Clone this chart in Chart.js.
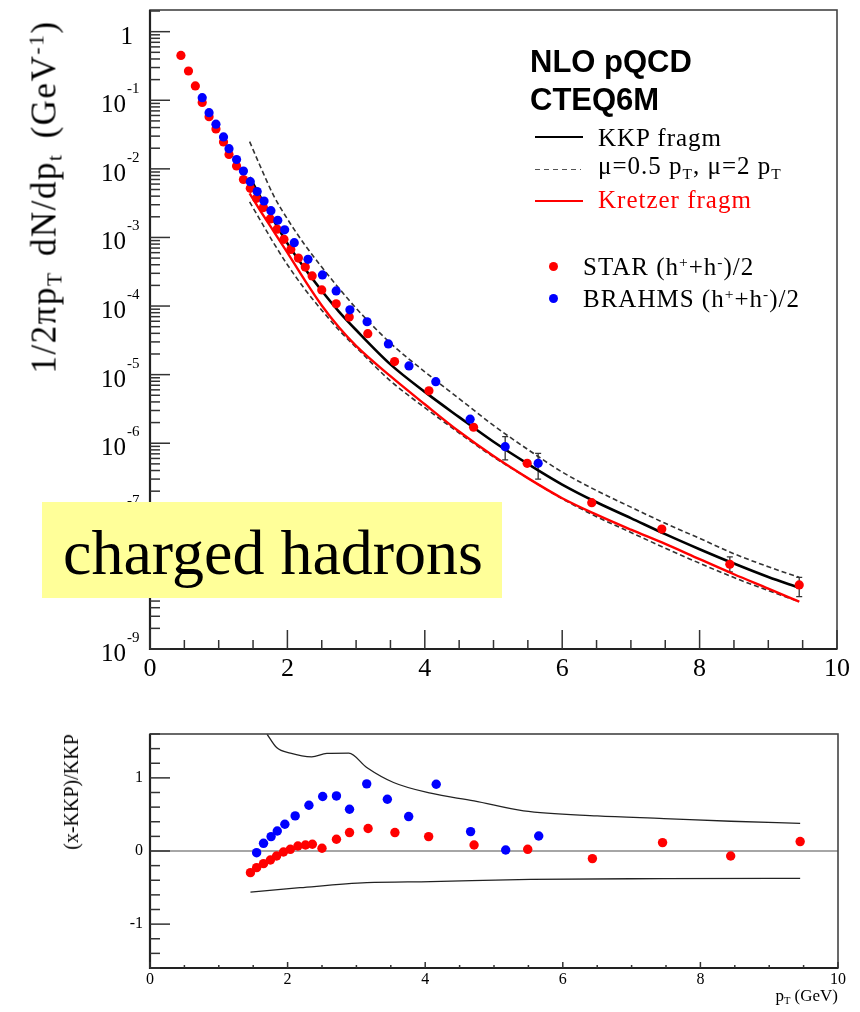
<!DOCTYPE html>
<html>
<head>
<meta charset="utf-8">
<script src="https://cdn.jsdelivr.net/npm/chart.js@4.4.1/dist/chart.umd.min.js"></script>
<style>
  html, body { margin: 0; padding: 0; background: #fff; }
  #wrap { position: relative; width: 860px; height: 1012px; overflow: hidden; background: #fff; }
  canvas { position: absolute; left: 0; }
  .t { position: absolute; white-space: nowrap; line-height: 1; font-family: "Liberation Serif", "Times New Roman", serif; color: #000; }
  .rot { transform: translate(-50%, -50%) rotate(-90deg); }
  .sb { font-size: 0.62em; position: relative; top: 0.28em; }
  .sp { font-size: 0.62em; position: relative; top: -0.55em; }
  .lg { letter-spacing: 1px; font-size: 25px; }
  .sw { position: absolute; }
</style>
</head>
<body>
<div id="wrap">
  <canvas id="topChart" width="860" height="690" style="top:0;"></canvas>
  <canvas id="botChart" width="860" height="312" style="top:700px;"></canvas>

  <div class="t rot" style="left:44px; top:197px; font-size:35px; letter-spacing:1.5px; word-spacing:5px;">1/2πp<span class="sb">T</span> dN/dp<span class="sb">t</span> (GeV<span class="sp">-1</span>)</div>
  <div class="t rot" style="left:71px; top:792px; font-size:20px;">(x-KKP)/KKP</div>
  <div class="t" style="right:22px; top:987px; font-size:17px;">p<span class="sb">T</span> (GeV)</div>

  <div class="t" style="left:530px; top:45.5px; font-family:'Liberation Sans', Arial, sans-serif; font-weight:bold; font-size:31px;">NLO pQCD</div>
  <div class="t" style="left:530px; top:83.8px; font-family:'Liberation Sans', Arial, sans-serif; font-weight:bold; font-size:31px;">CTEQ6M</div>

  <div class="sw" style="left:535px; top:136px; width:48px; height:2px; background:#000;"></div>
  <div class="t lg" style="left:598px; top:124.8px;">KKP fragm</div>
  <div class="sw" style="left:535px; top:169px; width:46px; height:1px; background:repeating-linear-gradient(to right, #555 0 5px, transparent 5px 9px);"></div>
  <div class="t lg" style="left:598px; top:153.4px;">μ=0.5 p<span class="sb">T</span>, μ=2 p<span class="sb">T</span></div>
  <div class="sw" style="left:535px; top:200px; width:48px; height:2px; background:#ff0000;"></div>
  <div class="t lg" style="left:598px; top:187.4px; color:#ff0000;">Kretzer fragm</div>

  <div class="sw" style="left:548.5px; top:261.5px; width:9px; height:9px; border-radius:50%; background:#ff0000;"></div>
  <div class="t lg" style="left:583px; top:254.1px;">STAR (h<span class="sp">+</span>+h<span class="sp">-</span>)/2</div>
  <div class="sw" style="left:548.5px; top:293.5px; width:9px; height:9px; border-radius:50%; background:#0000ff;"></div>
  <div class="t lg" style="left:583px; top:286.4px;">BRAHMS (h<span class="sp">+</span>+h<span class="sp">-</span>)/2</div>

  <div class="sw" style="left:42px; top:502px; width:460px; height:96px; background:#ffff99;"></div>
  <div class="t" style="left:63px; top:521.4px; font-size:64px;">charged hadrons</div>
</div>

<script>
// ---------------- data ----------------
// STAR (h+ + h-)/2 invariant yield
const starPt    = [0.45,0.56,0.66,0.76,0.86,0.96,1.07,1.15,1.26,1.36,1.46,1.55,1.65,1.75,1.85,1.95,2.05,2.16,2.26,2.36,2.50,2.71,2.90,3.17,3.56,4.06,4.71,5.49,6.43,7.45,8.44,9.45];
const starYield = [0.45,0.267,0.162,0.093,0.0577,0.0382,0.0247,0.0162,0.0110,0.0070,0.00521,0.00372,0.00273,0.00186,0.00132,0.00094,0.00067,0.00050,0.00037,0.000275,0.000172,0.000108,6.9e-5,3.96e-5,1.55e-5,5.8e-6,1.71e-6,5.1e-7,1.36e-7,5.6e-8,1.72e-8,8.6e-9];

// BRAHMS (h+ + h-)/2 invariant yield
const brahmsPt    = [0.76,0.86,0.96,1.07,1.15,1.26,1.36,1.46,1.56,1.66,1.76,1.86,1.96,2.10,2.30,2.51,2.71,2.91,3.16,3.47,3.77,4.16,4.66,5.17,5.65];
const brahmsYield = [0.109,0.066,0.0448,0.0292,0.0197,0.0137,0.0093,0.0065,0.00466,0.0034,0.00246,0.00178,0.00129,0.00084,0.00048,0.000284,0.000166,8.8e-5,5.9e-5,2.8e-5,1.34e-5,7.9e-6,2.24e-6,8.9e-7,5.1e-7];

// visible error bars (pT, low, high)
const errPt   = [5.17, 5.65, 8.44, 9.45];
const errLow  = [5.7e-7, 3.0e-7, 1.33e-8, 5.8e-9];
const errHigh = [1.25e-6, 7.1e-7, 2.2e-8, 1.11e-8];

// NLO pQCD curves
const theoryPt  = [1.45,1.6,1.8,2.0,2.25,2.5,2.75,3.0,3.5,4.0,4.5,5.0,5.5,6.0,6.5,7.0,7.5,8.0,8.5,9.0,9.45];
const kkp       = [7.6e-3,4.0e-3,1.78e-3,8.2e-4,3.55e-4,1.67e-4,8.3e-5,4.47e-5,1.41e-5,5.6e-6,2.4e-6,1.05e-6,5.0e-7,2.5e-7,1.38e-7,8.1e-8,4.73e-8,2.85e-8,1.76e-8,1.12e-8,7.8e-9];
const scaleHigh = [2.5e-2,1.12e-2,4.07e-3,1.86e-3,7.9e-4,3.7e-4,1.82e-4,9.3e-5,2.88e-5,1.10e-5,4.47e-6,1.82e-6,8.1e-7,3.8e-7,2.04e-7,1.17e-7,6.8e-8,4.1e-8,2.45e-8,1.58e-8,1.11e-8];
const scaleLow  = [3.3e-3,1.82e-3,8.3e-4,4.0e-4,1.78e-4,8.7e-5,4.47e-5,2.5e-5,8.1e-6,3.3e-6,1.41e-6,6.3e-7,3.1e-7,1.55e-7,8.5e-8,5.0e-8,2.95e-8,1.78e-8,1.10e-8,7.1e-9,4.9e-9];
const kretzer   = [4.4e-3,2.5e-3,1.23e-3,6.0e-4,2.4e-4,1.02e-4,4.9e-5,2.63e-5,9.5e-6,3.7e-6,1.48e-6,6.5e-7,3.1e-7,1.58e-7,9.1e-8,5.5e-8,3.4e-8,2.04e-8,1.23e-8,7.6e-9,4.9e-9];

// ratio panel (x-KKP)/KKP
const starRatioPt   = [1.46,1.55,1.65,1.75,1.84,1.94,2.04,2.15,2.26,2.36,2.50,2.71,2.90,3.17,3.56,4.05,4.71,5.49,6.43,7.45,8.44,9.45];
const starRatio     = [-0.296,-0.228,-0.173,-0.123,-0.068,-0.014,0.023,0.068,0.082,0.092,0.037,0.160,0.252,0.307,0.252,0.197,0.082,0.023,-0.104,0.115,-0.068,0.129];
const brahmsRatioPt = [1.55,1.65,1.76,1.85,1.96,2.11,2.31,2.51,2.71,2.90,3.15,3.45,3.76,4.16,4.66,5.17,5.65];
const brahmsRatio   = [-0.023,0.105,0.197,0.274,0.366,0.48,0.626,0.745,0.753,0.571,0.918,0.708,0.471,0.913,0.265,0.014,0.205];
const bandUpperPt   = [1.70,1.84,2.04,2.35,2.57,2.89,3.15,3.54,4.08,4.71,5.43,6.50,7.47,8.44,9.45];
const bandUpper     = [1.60,1.416,1.338,1.288,1.334,1.338,1.142,0.937,0.790,0.685,0.548,0.479,0.444,0.407,0.379];
const bandLowerPt   = [1.46,2.18,3.15,4.08,5.53,7.47,9.45];
const bandLower     = [-0.561,-0.502,-0.433,-0.418,-0.388,-0.378,-0.374];
const ratioRef      = 0;

// axes / ticks
const xRange       = [0, 10];
const xTickStep    = 2;
const xMinorStep   = 0.5;
const yTopRange    = [1e-9, 2.07];
const decadeExp    = [0,-1,-2,-3,-4,-5,-6,-7,-8,-9];
const yBotRange    = [-1.6, 1.6];
const yBotTicks    = [-1, 0, 1];
const yBotMinorStep = 0.2;

// ---------------- helpers ----------------
const SERIF = '"Liberation Serif", "Times New Roman", serif';
const pts = (xs, ys) => xs.map((x, i) => ({ x: x, y: ys[i] }));
const curve = (label, xs, ys, color, width, dash) => ({
  label, data: pts(xs, ys), showLine: true, borderColor: color, borderWidth: width,
  borderDash: dash || [], pointRadius: 0, pointHoverRadius: 0,
  cubicInterpolationMode: 'monotone', fill: false
});
const dots = (label, xs, ys, color, r) => ({
  label, data: pts(xs, ys), showLine: false, pointRadius: r, pointHoverRadius: r,
  backgroundColor: color, borderColor: color, pointBackgroundColor: color, pointBorderWidth: 0
});

const xMajorVals = [];
for (let v = xRange[0]; v <= xRange[1] + 1e-9; v += xTickStep) xMajorVals.push(v);
const xMinorVals = [];
for (let k = 0; k * xMinorStep <= xRange[1] + 1e-9; k++) { const v = k * xMinorStep; if (Math.abs(v / xTickStep - Math.round(v / xTickStep)) > 1e-6) xMinorVals.push(v); }

const yTopMajor = decadeExp.map(e => Math.pow(10, e));
const yTopMinor = [];
decadeExp.forEach(e => { for (let k = 2; k <= 9; k++) { const v = k * Math.pow(10, e); if (v <= yTopRange[1]) yTopMinor.push(v); } });

const yBotMinor = [];
for (let k = Math.ceil(yBotRange[0] / yBotMinorStep); k * yBotMinorStep <= yBotRange[1] + 1e-9; k++) {
  const v = +(k * yBotMinorStep).toFixed(3);
  if (!yBotTicks.some(t => Math.abs(t - v) < 1e-6)) yBotMinor.push(v);
}

const errorBars = {
  id: 'errorBars',
  beforeDatasetsDraw(chart) {
    const { ctx } = chart; const xs = chart.scales.x, ys = chart.scales.y;
    ctx.save(); ctx.strokeStyle = '#333'; ctx.lineWidth = 1.3;
    errPt.forEach((p, i) => {
      const x = xs.getPixelForValue(p), y1 = ys.getPixelForValue(errLow[i]), y2 = ys.getPixelForValue(errHigh[i]);
      ctx.beginPath(); ctx.moveTo(x, y1); ctx.lineTo(x, y2);
      ctx.moveTo(x - 3, y1); ctx.lineTo(x + 3, y1); ctx.moveTo(x - 3, y2); ctx.lineTo(x + 3, y2); ctx.stroke();
    });
    ctx.restore();
  }
};

function frame(cfg) {
  return {
    id: 'rootFrame',
    afterDatasetsDraw(chart) {
      const { ctx, chartArea: a } = chart;
      const xs = chart.scales.x, ys = chart.scales.y;
      ctx.save();
      const line = (x1, y1, x2, y2) => { ctx.beginPath(); ctx.moveTo(x1, y1); ctx.lineTo(x2, y2); ctx.stroke(); };
      ctx.strokeStyle = '#444'; ctx.lineWidth = 1.6;
      ctx.strokeRect(a.left, a.top, a.right - a.left, a.bottom - a.top);
      ctx.strokeStyle = '#222'; ctx.lineWidth = 2.2;
      ctx.beginPath(); ctx.moveTo(a.left, a.top); ctx.lineTo(a.left, a.bottom); ctx.lineTo(a.right, a.bottom); ctx.stroke();
      ctx.strokeStyle = '#333'; ctx.lineWidth = 1.5;
      cfg.yMajor.forEach(v => { const y = ys.getPixelForValue(v); line(a.left, y, a.left + cfg.yMajorLen, y); });
      cfg.yMinor.forEach(v => { const y = ys.getPixelForValue(v); line(a.left, y, a.left + cfg.yMinorLen, y); });
      cfg.xMajor.forEach(v => { const x = xs.getPixelForValue(v); line(x, a.bottom, x, a.bottom - cfg.xMajorLen); });
      cfg.xMinor.forEach(v => { const x = xs.getPixelForValue(v); line(x, a.bottom, x, a.bottom - cfg.xMinorLen); });
      if (cfg.logLabels) {
        ctx.fillStyle = '#000'; ctx.textBaseline = 'alphabetic';
        decadeExp.forEach(e => {
          const y = ys.getPixelForValue(Math.pow(10, e));
          if (e === 0) {
            ctx.font = '25px ' + SERIF; ctx.textAlign = 'right';
            ctx.fillText('1', a.left - 17, y + 12);
          } else {
            ctx.font = '25px ' + SERIF; ctx.textAlign = 'right';
            ctx.fillText('10', a.left - 24, y + 12);
            ctx.font = '15px ' + SERIF; ctx.textAlign = 'left';
            ctx.fillText(String(e), a.left - 23, y - 7);
          }
        });
      }
      ctx.restore();
    }
  };
}

// ---------------- top panel ----------------
new Chart(document.getElementById('topChart'), {
  type: 'scatter',
  data: {
    datasets: [
      dots('BRAHMS (h+ + h-)/2', brahmsPt, brahmsYield, '#0000ff', 4.6),
      dots('STAR (h+ + h-)/2', starPt, starYield, '#ff0000', 4.6),
      curve('Kretzer fragm', theoryPt, kretzer, '#ff0000', 2.4),
      curve('KKP fragm', theoryPt, kkp, '#000000', 2.6),
      curve('mu = 0.5 pT', theoryPt, scaleHigh, '#333333', 1.6, [5, 3]),
      curve('mu = 2 pT', theoryPt, scaleLow, '#333333', 1.6, [5, 3])
    ]
  },
  options: {
    responsive: false, animation: false, events: [],
    layout: { padding: { left: 0, top: 10, right: 23, bottom: 0 } },
    plugins: { legend: { display: false }, tooltip: { enabled: false } },
    scales: {
      x: {
        type: 'linear', position: 'bottom', min: xRange[0], max: xRange[1],
        ticks: { stepSize: xTickStep, font: { family: SERIF, size: 26 }, color: '#000', padding: 5, maxRotation: 0, autoSkip: false },
        grid: { display: false, drawTicks: false }, border: { display: false },
        afterFit: s => { s.height = 41; s.paddingLeft = 0; s.paddingRight = 0; }
      },
      y: {
        type: 'logarithmic', position: 'left', min: yTopRange[0], max: yTopRange[1],
        ticks: { display: false }, grid: { display: false, drawTicks: false }, border: { display: false },
        afterFit: s => { s.width = 150; s.paddingTop = 0; s.paddingBottom = 0; }
      }
    }
  },
  plugins: [errorBars, frame({ yMajor: yTopMajor, yMinor: yTopMinor, yMajorLen: 20, yMinorLen: 10,
                    xMajor: xMajorVals, xMinor: xMinorVals, xMajorLen: 19, xMinorLen: 9, logLabels: true })]
});

// ---------------- ratio panel ----------------
new Chart(document.getElementById('botChart'), {
  type: 'scatter',
  data: {
    datasets: [
      dots('BRAHMS ratio', brahmsRatioPt, brahmsRatio, '#0000ff', 4.7),
      dots('STAR ratio', starRatioPt, starRatio, '#ff0000', 4.7),
      curve('scale band high', bandUpperPt, bandUpper, '#222222', 1.3),
      curve('scale band low', bandLowerPt, bandLower, '#222222', 1.3),
      { label: 'reference', data: pts(xRange, [ratioRef, ratioRef]), showLine: true, borderColor: '#888888',
        borderWidth: 1.6, pointRadius: 0, pointHoverRadius: 0, fill: false }
    ]
  },
  options: {
    responsive: false, animation: false, events: [],
    layout: { padding: { left: 0, top: 34, right: 22, bottom: 0 } },
    plugins: { legend: { display: false }, tooltip: { enabled: false } },
    scales: {
      x: {
        type: 'linear', position: 'bottom', min: xRange[0], max: xRange[1],
        ticks: { stepSize: xTickStep, font: { family: SERIF, size: 16 }, color: '#000', padding: 2, maxRotation: 0, autoSkip: false },
        grid: { display: false, drawTicks: false }, border: { display: false },
        afterFit: s => { s.height = 44; s.paddingLeft = 0; s.paddingRight = 0; }
      },
      y: {
        type: 'linear', position: 'left', min: yBotRange[0], max: yBotRange[1],
        afterBuildTicks: s => { s.ticks = yBotTicks.map(v => ({ value: v })); },
        ticks: { font: { family: SERIF, size: 16 }, color: '#000', padding: 7, autoSkip: false },
        grid: { display: false, drawTicks: false }, border: { display: false },
        afterFit: s => { s.width = 150; s.paddingTop = 0; s.paddingBottom = 0; }
      }
    }
  },
  plugins: [frame({ yMajor: yBotTicks, yMinor: yBotMinor, yMajorLen: 20, yMinorLen: 10,
                    xMajor: xMajorVals, xMinor: xMinorVals, xMajorLen: 6, xMinorLen: 3, logLabels: false })]
});
</script>
</body>
</html>
